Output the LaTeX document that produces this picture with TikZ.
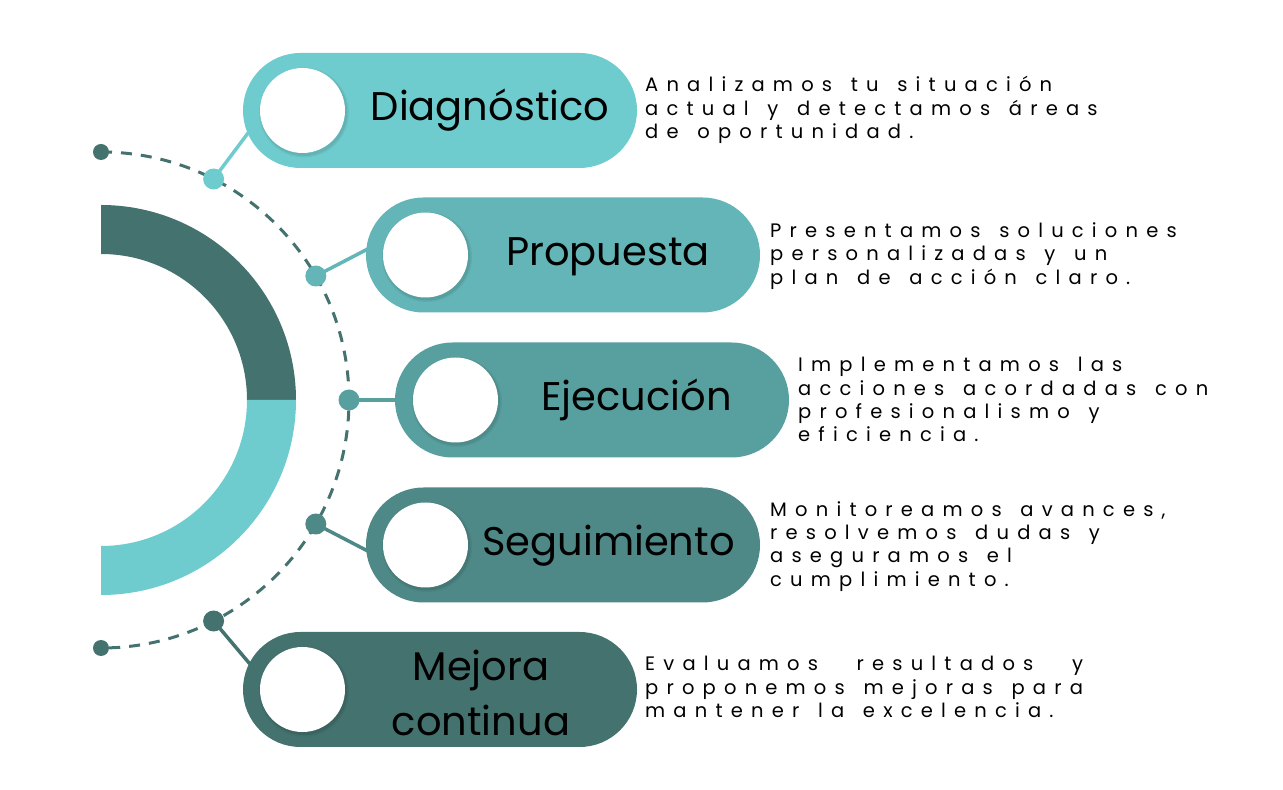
\documentclass[tikz,border=0pt]{standalone}
\usepackage{fontspec}
\usetikzlibrary{shapes.misc,calc}
\newfontfamily\titlefont{Poppins}
\newfontfamily\bodyfont{Poppins}[LetterSpace=42,WordSpace=1.4]
\definecolor{cA}{HTML}{6FCCCE}
\definecolor{cB}{HTML}{63B5B7}
\definecolor{cC}{HTML}{58A09F}
\definecolor{cD}{HTML}{4E8987}
\definecolor{cE}{HTML}{44726F}
\newlength\lineW
\pgfdeclarelayer{background}
\pgfsetlayers{background,main}
\tikzset{
 pill/.style={rounded rectangle, minimum width=394pt, minimum height=115pt, inner sep=0pt},
 hole/.style={circle, fill=white, minimum size=85pt, inner sep=0pt},
 dot/.style={circle, minimum size=21pt, inner sep=0pt},
 enddot/.style={circle, fill=cE, minimum size=16pt, inner sep=0pt},
 title/.style={font=\titlefont\fontsize{40}{55}\selectfont, text=black, inner sep=0pt, align=center},
 body/.style={font=\bodyfont\fontsize{19.5}{23.2}\selectfont, align=left, anchor=west, inner sep=0pt, text=black},
 link/.style={line width=3.5pt, line cap=round},
 dasharc/.style={line width=3pt, draw=cE, dash pattern=on 11pt off 9pt}
}
\newcommand{\holeshadow}[1]{%
 \fill[black, opacity=0.05] ($(#1)+(1.5,-2)$) circle (45);
 \fill[black, opacity=0.07] ($(#1)+(1.5,-2)$) circle (43.5);
}
\begin{document}
\begin{tikzpicture}[x=1pt,y=1pt]
\useasboundingbox (0,0) rectangle (1283,790);

% half ring
\fill[cE] (101,585) arc[start angle=90,end angle=0,radius=195] -- (247,390) arc[start angle=0,end angle=90,radius=146] -- cycle;
\fill[cA] (296,390) arc[start angle=0,end angle=-90,radius=195] -- (101,244) arc[start angle=-90,end angle=0,radius=146] -- cycle;

% dots on the dashed arc
\node[enddot] (top) at (101,638) {};
\node[enddot] (bot) at (101,142) {};
\node[dot, fill=cA] (d1) at (213.6,611) {};
\node[dot, fill=cB] (d2) at (315.8,514) {};
\node[dot, fill=cC] (d3) at (349,390) {};
\node[dot, fill=cD] (d4) at (315.8,266) {};
\node[dot, fill=cE] (d5) at (213.6,169) {};

% pills
\node[pill, fill=cA] (p1) at (440,679.5) {};
\node[pill, fill=cB] (p2) at (563,535) {};
\node[pill, fill=cC] (p3) at (592,390) {};
\node[pill, fill=cD] (p4) at (563,245) {};
\node[pill, fill=cE] (p5) at (440,100.5) {};

\coordinate (e1) at (253.2,663.8);
\coordinate (e2) at (373.5,544);
\coordinate (e3) at (400,390);
\coordinate (e4) at (373.5,236);
\coordinate (e5) at (255,120);

\begin{pgfonlayer}{background}
\draw[dasharc] (top.center) arc[start angle=90,end angle=-90,radius=248];
\draw[link, cA] (d1.center) -- (e1);
\draw[link, cB] (d2.center) -- (e2);
\draw[link, cC] (d3.center) -- (e3);
\draw[link, cD] (d4.center) -- (e4);
\draw[link, cE] (d5.center) -- (e5);
\end{pgfonlayer}

% holes
\coordinate (h1) at (302.5,679.5);
\coordinate (h2) at (425.5,535);
\coordinate (h3) at (455.5,390);
\coordinate (h4) at (425.5,245);
\coordinate (h5) at (302.5,100.5);
\holeshadow{h1}\holeshadow{h2}\holeshadow{h3}\holeshadow{h4}\holeshadow{h5}
\node[hole] (c1) at (h1) {};
\node[hole] (c2) at (h2) {};
\node[hole] (c3) at (h3) {};
\node[hole] (c4) at (h4) {};
\node[hole] (c5) at (h5) {};

% titles
\node[title, anchor=base] (t1) at (490,669) {Diagnóstico};
\node[title, anchor=base] (t2) at (608,524) {Propuesta};
\node[title, anchor=base] (t3) at (636.5,379) {Ejecución};
\node[title, anchor=base] (t4) at (608.5,234) {Seguimiento};
\node[title] (t5) at (481,97.5) {Mejora\\continua};

% descriptions
\node[body] (b1) at (645,680) {Analizamos tu situación\\actual y detectamos áreas\\de oportunidad.};
\node[body] (b2) at (770,534) {Presentamos soluciones\\personalizadas y un\\plan de acción claro.};
\node[body] (b3) at (798,390.5) {Implementamos las\\acciones acordadas con\\profesionalismo y\\eficiencia.};
\node[body] (b4) at (770,243.5) {Monitoreamos avances,\\resolvemos dudas y\\aseguramos el\\cumplimiento.};
\node[body] (b5) at (645,103) {\settowidth{\lineW}{proponemos mejoras para}\makebox[\lineW][s]{Evaluamos resultados y}\\proponemos mejoras para\\mantener la excelencia.};
\end{tikzpicture}
\end{document}
